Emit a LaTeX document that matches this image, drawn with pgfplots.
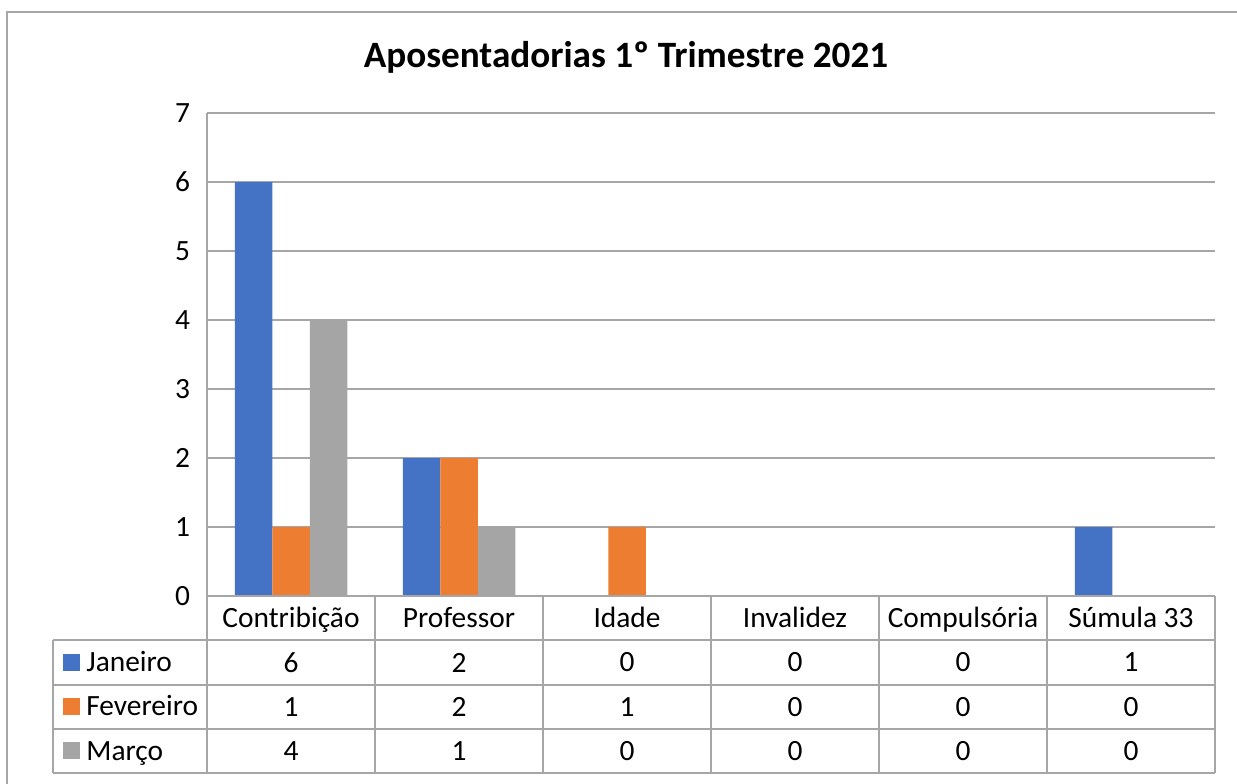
\documentclass[border=0pt]{standalone}
\usepackage{pgfplots}
\pgfplotsset{compat=1.18}
\usepackage{pgfplotstable}
\usepackage{fontspec}
\setmainfont{Carlito}

\definecolor{janblue}{HTML}{4472C4}
\definecolor{fevorange}{HTML}{ED7D31}
\definecolor{margray}{HTML}{A5A5A5}
\definecolor{linegray}{HTML}{A6A6A6}

\pgfplotstableread{
x jan fev mar
0 6 1 4
1 2 2 1
2 0 1 0
3 0 0 0
4 0 0 0
5 1 0 0
}\aposdata

\newcommand{\tfont}{\fontsize{14.7}{17}\selectfont}

\begin{document}
\begin{tikzpicture}
  \useasboundingbox (0,0) rectangle (618.5pt,391.5pt);

  \begin{axis}[
      at={(103.5pt,93.5pt)}, anchor=south west,
      scale only axis,
      width=504pt, height=241.5pt,
      xmin=-0.5, xmax=5.5,
      ymin=0, ymax=7,
      ytick={0,...,7},
      xtick=\empty,
      axis x line=none,
      axis y line*=left,
      axis line style={linegray, line width=0.7pt},
      ymajorgrids,
      grid style={linegray, line width=0.7pt},
      major tick length=0pt,
      yticklabel style={font=\tfont, xshift=-5pt},
      /pgf/number format/assume math mode=true,
      clip=false,
    ]
    \addplot[ybar, fill=janblue, draw=none, bar width=18.75pt, bar shift=-18.75pt]
      table[x=x, y=jan]{\aposdata};
    \addplot[ybar, fill=fevorange, draw=none, bar width=18.75pt, bar shift=0pt]
      table[x=x, y=fev]{\aposdata};
    \addplot[ybar, fill=margray, draw=none, bar width=18.75pt, bar shift=18.75pt]
      table[x=x, y=mar]{\aposdata};

    % data table values
    \addplot[draw=none, mark=none, point meta=explicit, nodes near coords,
      every node near coord/.style={anchor=center, font=\tfont}]
      table[x=x, y expr=-0.964, meta=jan]{\aposdata};
    \addplot[draw=none, mark=none, point meta=explicit, nodes near coords,
      every node near coord/.style={anchor=center, font=\tfont}]
      table[x=x, y expr=-1.609, meta=fev]{\aposdata};
    \addplot[draw=none, mark=none, point meta=explicit, nodes near coords,
      every node near coord/.style={anchor=center, font=\tfont}]
      table[x=x, y expr=-2.246, meta=mar]{\aposdata};
  \end{axis}

  % everything else in reference pixel coordinates (y downwards)
  \begin{scope}[x=0.5pt, y=-0.5pt, yshift=391.5pt]
    \draw[linegray, line width=0.7pt] (7,12) rectangle (1250,800);

    \node[font=\fontsize{18.6}{22}\selectfont\bfseries] at (626,57) {Aposentadorias 1º Trimestre 2021};

    \begin{scope}[linegray, line width=0.7pt]
      \draw (207,596) -- (1215,596);
      \foreach \yy in {640,685,729,773} \draw (53,\yy) -- (1215,\yy);
      \draw (53,640) -- (53,773);
      \foreach \xx in {207,375,543,711,879,1047,1215} \draw (\xx,596) -- (\xx,773);
    \end{scope}

    \foreach \lab [count=\i from 0] in {Contribição,Professor,Idade,Invalidez,Compulsória,Súmula 33}
      \node[font=\tfont, anchor=base] at (291+168*\i,627) {\lab};

    \fill[janblue] (63,654) rectangle (80,671);
    \node[font=\tfont, anchor=base west, inner sep=0pt] at (86,671) {Janeiro};
    \fill[fevorange] (63,698) rectangle (80,715);
    \node[font=\tfont, anchor=base west, inner sep=0pt] at (86,715) {Fevereiro};
    \fill[margray] (63,742) rectangle (80,759);
    \node[font=\tfont, anchor=base west, inner sep=0pt] at (86,760) {Março};
  \end{scope}
\end{tikzpicture}
\end{document}
